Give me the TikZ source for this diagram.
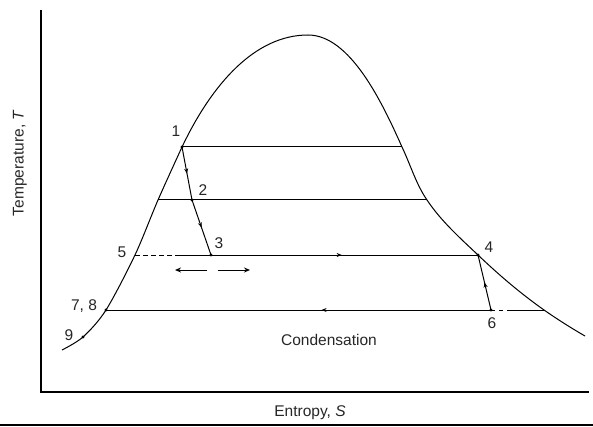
\documentclass[tikz,border=0pt]{standalone}
\usepackage{fontspec}
\setmainfont{Liberation Sans}
\usetikzlibrary{arrows.meta,calc,decorations.markings}
\tikzset{
    axis/.style={line width=1.3pt},
    dome/.style={line width=1pt},
    iso/.style={line width=1pt},
    lbl/.style={font=\fontsize{15.5}{18}\selectfont,inner sep=0pt,text=black!85},
    midarr/.style={postaction={decorate},decoration={markings,
        mark=at position #1 with {\arrow{Stealth[length=5pt,width=4pt]}}}},
    midarr/.default=0.5,
    arr/.style={-{Stealth[length=6pt,width=5pt]},line width=1pt},
}

\begin{document}
\begin{tikzpicture}[x=1pt,y=-1pt]
\useasboundingbox (0,0) rectangle (593,427);
% axes and frame line
\coordinate (ytop) at (41,10);
\coordinate (o)    at (41,392);
\coordinate (xend) at (589,392);
\coordinate (bl)   at (0,425);
\coordinate (br)   at (593,425);
\draw[axis] (ytop) -- (o) -- (xend);
\draw[line width=2.5pt] (bl) -- (br);
% saturation dome
\draw[dome,line join=round] plot[smooth,tension=0.5] coordinates {(62,350) (83,337) (106,310) (135,255) (158,200) (182,147)}
    .. controls (212,84) and (255,35) .. (308,35)
    .. controls (350,35) and (382,102) .. (402,147)
    .. controls (411,166) and (416,184) .. (427,200)
    .. controls (441,221) and (460,238) .. (478,255)
    .. controls (499,275) and (520,293) .. (544,310)
    .. controls (557,319) and (571,328) .. (585,336);
% state points
\coordinate (p1)  at (182,147);
\coordinate (p2)  at (192,200);
\coordinate (p3)  at (211,255);
\coordinate (p4)  at (478,255);
\coordinate (p5)  at (135,255);
\coordinate (p6)  at (491,310);
\coordinate (p78) at (106,310);
\coordinate (p9)  at (83,337);
\coordinate (a1)  at (402,147);
\coordinate (b0)  at (158,200);
\coordinate (b1)  at (427,200);
\coordinate (c0)  at (175,255);
\coordinate (d1)  at (508,310);
\coordinate (d2)  at (544,310);
% isotherms
\draw[iso] (p1) -- (a1);
\draw[iso] (b0) -- (b1);
\draw[iso,dash pattern=on 5pt off 3pt] (p5) -- (c0);
\draw[iso,midarr=0.55] (c0) -- (p4);
\draw[iso,midarr=0.44] (p6) -- (p78);
\draw[iso,dash pattern=on 4pt off 4pt] (p6) -- (d1);
\draw[iso] (d1) -- (d2);
% expansion and compression
\draw[iso,midarr] (p1) -- (p2);
\draw[iso,midarr] (p2) -- (p3);
\draw[iso,midarr] (p6) -- (p4);
% two-way arrows
\coordinate (l0) at (207,270);
\coordinate (l1) at (175,270);
\coordinate (r0) at (218,270);
\coordinate (r1) at (250,270);
\draw[arr] (l0) -- (l1);
\draw[arr] (r0) -- (r1);
% dots
\foreach \p in {p1,p2,p3,p4,p6,p78,p9}
    \fill (\p) circle (1.6);
% labels
\node[lbl] (n1)  at (176,131) {1};
\node[lbl] (n2)  at (203,190) {2};
\node[lbl] (n3)  at (219,243) {3};
\node[lbl] (n4)  at (489,247) {4};
\node[lbl] (n5)  at (122,252) {5};
\node[lbl] (n6)  at (492,323) {6};
\node[lbl] (n78) at (84,306)  {7, 8};
\node[lbl] (n9)  at (69,335)  {9};
\node[lbl] (cond) at (329,340) {Condensation};
\node[lbl] (xlab) at (310,413) {Entropy, \textit{S}};
\node[lbl,rotate=90] (ylab) at (20,163) {Temperature, \textit{T}};
\end{tikzpicture}
\end{document}
